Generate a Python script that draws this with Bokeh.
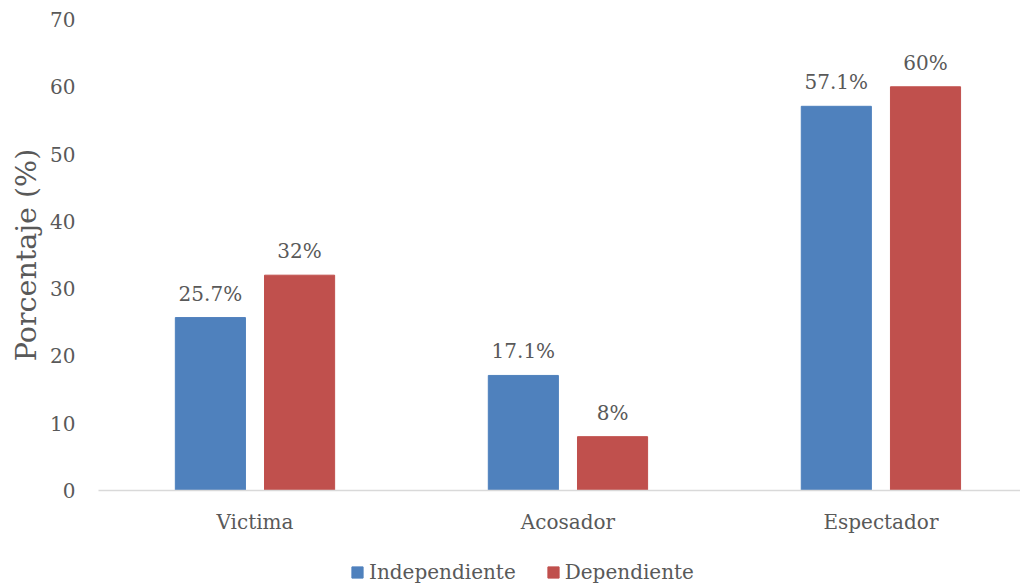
from bokeh.plotting import figure
from bokeh.layouts import column
from bokeh.models import Range1d, FixedTicker, Legend, LegendItem, ColumnDataSource
from bokeh.core.properties import value
from bokeh.embed import file_html
from bokeh.resources import INLINE

categories = ["Victima", "Acosador", "Espectador"]
independiente = [25.7, 17.1, 57.1]
dependiente = [32, 8, 60]
independiente_labels = ["25.7%", "17.1%", "57.1%"]
dependiente_labels = ["32%", "8%", "60%"]
y_ticks = [0, 10, 20, 30, 40, 50, 60, 70]
series_names = ["Independiente", "Dependiente"]

FONT = "DejaVu Serif"
TXT = "#595959"
BLUE = "#4F81BD"
RED = "#C0504D"

centers = [i + 0.5 for i in range(len(categories))]
OFF = 0.1425
BW = 0.224

src = ColumnDataSource(dict(
    xi=[c - OFF for c in centers],
    xd=[c + OFF for c in centers],
    ind=independiente,
    dep=dependiente,
    il=independiente_labels,
    dl=dependiente_labels,
))

W = 1020
p = figure(width=W, height=540, x_range=Range1d(0, 2.946), y_range=Range1d(0, 70),
           output_backend="svg", toolbar_location=None,
           min_border_left=98, min_border_right=0, min_border_top=19, min_border_bottom=50)
p.outline_line_color = None
p.xgrid.grid_line_color = None
p.ygrid.grid_line_color = None
p.background_fill_color = "white"
p.border_fill_color = "white"

rb = p.vbar(x="xi", top="ind", width=BW, bottom=0, source=src, fill_color=BLUE, line_color=BLUE)
rr = p.vbar(x="xd", top="dep", width=BW, bottom=0, source=src, fill_color=RED, line_color=RED)

p.text(x="xi", y="ind", text="il", source=src, text_align="center", text_baseline="alphabetic",
       y_offset=-24, text_font=value(FONT), text_font_size="20px", text_color=TXT)
p.text(x="xd", y="dep", text="dl", source=src, text_align="center", text_baseline="alphabetic",
       y_offset=-24, text_font=value(FONT), text_font_size="20px", text_color=TXT)

xa = p.xaxis[0]
xa.ticker = FixedTicker(ticks=centers)
xa.major_label_overrides = {c: n for c, n in zip(centers, categories)}
xa.axis_line_color = "#D9D9D9"
xa.axis_line_width = 1.5
xa.major_tick_line_color = None
xa.minor_tick_line_color = None
xa.major_label_text_font = FONT
xa.major_label_text_font_size = "20px"
xa.major_label_text_color = TXT
xa.major_label_standoff = 13

ya = p.yaxis[0]
ya.ticker = FixedTicker(ticks=y_ticks)
ya.axis_line_color = None
ya.major_tick_line_color = None
ya.minor_tick_line_color = None
ya.major_label_text_font = FONT
ya.major_label_text_font_size = "20px"
ya.major_label_text_color = TXT
ya.major_label_standoff = 17
ya.axis_label = "Porcentaje (%)"
ya.axis_label_text_font = FONT
ya.axis_label_text_font_size = "28.5px"
ya.axis_label_text_font_style = "normal"
ya.axis_label_text_color = TXT
ya.axis_label_standoff = 4

# legend strip below the chart (its bars lie outside the strip's visible range)
pl = figure(width=W, height=46, x_range=Range1d(100, 101), y_range=Range1d(100, 101),
            output_backend="svg", toolbar_location=None,
            min_border_left=0, min_border_right=0, min_border_top=0, min_border_bottom=0)
pl.axis.visible = False
pl.grid.visible = False
pl.outline_line_color = None
pl.border_fill_color = "white"
pl.background_fill_color = "white"
lb = pl.vbar(x="xi", top="ind", width=BW, source=src, fill_color=BLUE, line_color=BLUE)
lr = pl.vbar(x="xd", top="dep", width=BW, source=src, fill_color=RED, line_color=RED)

legend = Legend(items=[LegendItem(label=series_names[0], renderers=[lb]),
                       LegendItem(label=series_names[1], renderers=[lr])],
                orientation="horizontal", location=(252, 2))
legend.label_text_font = FONT
legend.label_text_font_size = "20px"
legend.label_text_color = TXT
legend.glyph_width = 14
legend.glyph_height = 14
legend.label_standoff = 5
legend.spacing = 30
legend.border_line_color = None
legend.background_fill_alpha = 0
legend.padding = 0
legend.margin = 0
pl.add_layout(legend, "center")

open("out.html", "w").write(file_html(column(p, pl, spacing=0), INLINE))
